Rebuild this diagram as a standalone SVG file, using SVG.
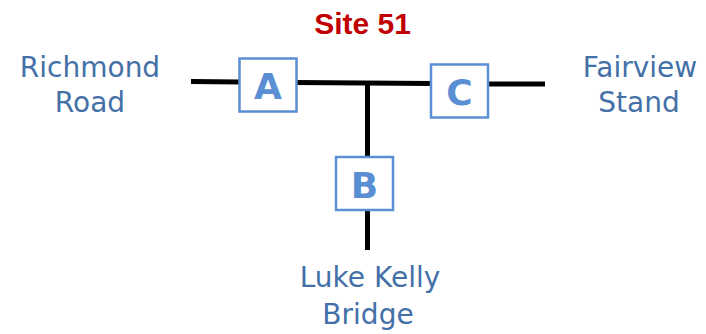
<svg xmlns="http://www.w3.org/2000/svg" width="706" height="334" viewBox="0 0 706 334">
<style>
.road{stroke:#000;stroke-width:5;fill:none}
.box rect{fill:#fff;stroke:#5B8FD4;stroke-width:2.5}
.box text{font-family:"DejaVu Sans",sans-serif;font-weight:bold;font-size:36px;fill:#5B8FD4;text-anchor:middle}
.lbl{font-family:"DejaVu Sans",sans-serif;font-size:28px;fill:#4470A8;text-anchor:middle}
.title{font-family:"Liberation Sans",Arial,sans-serif;font-weight:bold;font-size:30px;fill:#C00000;text-anchor:middle}
</style>
<rect width="706" height="334" fill="#fff"/>
<text class="title" x="362.5" y="34">Site 51</text>
<g id="connectors">
<line class="road" x1="191" y1="81.5" x2="240" y2="82"/>
<line class="road" x1="296" y1="82.5" x2="432" y2="83.5"/>
<line class="road" x1="487" y1="84" x2="545" y2="84"/>
<line class="road" x1="367.5" y1="83" x2="367.5" y2="158"/>
<line class="road" x1="367.5" y1="209" x2="367.5" y2="250"/>
</g>
<g id="nodeA" class="box"><rect x="239.5" y="58.5" width="57" height="53"/><text x="268" y="99">A</text></g>
<g id="nodeB" class="box"><rect x="336" y="157" width="57" height="53"/><text x="364.5" y="197.5">B</text></g>
<g id="nodeC" class="box"><rect x="431" y="64.5" width="57" height="53"/><text x="459.5" y="105">C</text></g>
<g id="richmond"><text class="lbl" x="90" y="76.5">Richmond</text><text class="lbl" x="90" y="111.5">Road</text></g>
<g id="fairview"><text class="lbl" x="640" y="76.5">Fairview</text><text class="lbl" x="639" y="111.5">Stand</text></g>
<g id="luke"><text class="lbl" x="370" y="286.5">Luke Kelly</text><text class="lbl" x="368" y="324">Bridge</text></g>
</svg>
